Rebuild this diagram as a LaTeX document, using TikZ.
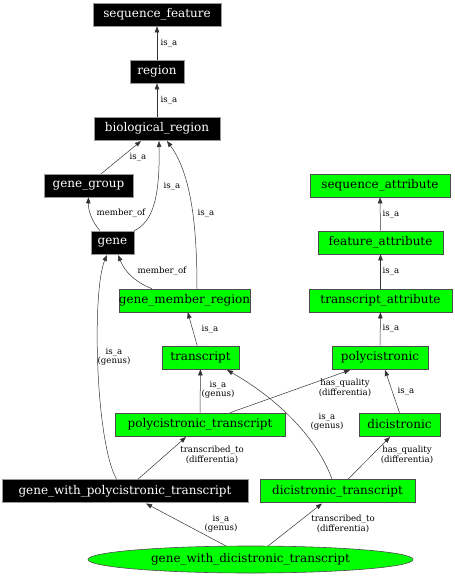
\documentclass[tikz,border=0pt]{standalone}
\usepackage{fontspec}
\setmainfont{DejaVu Serif}
\usetikzlibrary{arrows.meta,shapes.geometric}
\definecolor{lime}{RGB}{0,255,0}
\tikzset{
  base/.style={draw=black!70, line width=0.6pt, inner sep=0pt, minimum height=23pt, font=\fontsize{12}{14}\selectfont},
  blk/.style={base, fill=black, text=white, draw=black!40},
  grn/.style={base, fill=lime, text=black},
  ell/.style={base, ellipse, fill=lime, text=black, minimum height=27pt},
  edge/.style={draw=black!80, line width=0.5pt, -{Triangle[length=6pt,width=4.5pt]}},
  lab/.style={font=\fontsize{8.6}{8.5}\selectfont, align=center, inner sep=0pt}
}
\begin{document}
\begin{tikzpicture}[x=1pt,y=-1pt]
\useasboundingbox (0,0) rectangle (455,576);
% nodes
\node[blk, minimum width=128pt] (sf) at (157,14.5) {sequence\_feature};
\node[blk, minimum width=54pt] (reg) at (157,71.5) {region};
\node[blk, minimum width=126pt] (br) at (157,128.5) {biological\_region};
\node[blk, minimum width=89pt] (gg) at (88.5,185.5) {gene\_group};
\node[blk, minimum width=43pt] (gene) at (112.5,242.5) {gene};
\node[grn, minimum width=131pt] (gmr) at (184.5,300.5) {gene\_member\_region};
\node[grn, minimum width=77pt] (tr) at (200.5,357.5) {transcript};
\node[grn, minimum width=170pt] (pt) at (200,424.5) {polycistronic\_transcript};
\node[blk, minimum width=246pt] (gwpt) at (125,491) {gene\_with\_polycistronic\_transcript};
\node[grn, minimum width=155pt] (dt) at (337.5,491) {dicistronic\_transcript};
\node[ell, minimum width=325pt] (gwdt) at (250.5,559.5) {gene\_with\_dicistronic\_transcript};
\node[grn, minimum width=140pt] (sa) at (380,185.5) {sequence\_attribute};
\node[grn, minimum width=125pt] (fa) at (380.5,242.5) {feature\_attribute};
\node[grn, minimum width=143pt] (ta) at (380.5,300.5) {transcript\_attribute};
\node[grn, minimum width=96pt] (pc) at (380,357.5) {polycistronic};
\node[grn, minimum width=81pt] (dc) at (399.5,424.5) {dicistronic};
% edges
\draw[edge] (reg) -- (sf);
\node[lab] at (169,43) {is\_a};
\draw[edge] (br) -- (reg);
\node[lab] at (169,100) {is\_a};
\draw[edge] (gg.north east) ++(-32,0) -- (141,141);
\node[lab] at (138,157) {is\_a};
\draw[edge] (gene.north east) .. controls (152,222) and (160,200) .. (159,141);
\node[lab] at (172,186) {is\_a};
\draw[edge] ([xshift=12.5pt]gmr.north) .. controls (197,230) and (192,175) .. (167,141);
\node[lab] at (206,213) {is\_a};
\draw[edge] ([xshift=-12.5pt]gene.north) .. controls (92,222) and (88,210) .. (gg.south);
\node[lab] at (121,213) {member\_of};
\draw[edge] ([xshift=-32.5pt]gmr.north) .. controls (135,282) and (125,272) .. (118,255);
\node[lab] at (162,271) {member\_of};
\draw[edge] (tr) -- (gmr);
\node[lab] at (210,329) {is\_a};
\draw[edge] (pt) -- (tr);
\node[lab] at (218,390) {is\_a\\(genus)};
\draw[edge] ([xshift=-5.5pt]dt.north) .. controls (318,440) and (280,400) .. (227,370);
\node[lab] at (327,422) {is\_a\\(genus)};
\draw[edge] ([xshift=30pt]pt.north) -- (350,370);
\node[lab] at (345,388) {has\_quality\\(differentia)};
\draw[edge] (dc.north) -- (385,370);
\node[lab] at (406,391) {is\_a};
\draw[edge] ([xshift=10.5pt]dt.north) -- (390,437);
\node[lab] at (407,455) {has\_quality\\(differentia)};
\draw[edge] ([xshift=13pt]gwpt.north) -- (186,437);
\node[lab] at (212,455) {transcribed\_to\\(differentia)};
\draw[edge] ([xshift=-8.5pt]gwpt.north) .. controls (95,440) and (92,290) .. (107,255);
\node[lab] at (114,357) {is\_a\\(genus)};
\draw[edge] (226,546) -- (146,503.5);
\node[lab] at (221,524) {is\_a\\(genus)};
\draw[edge] (268,546) -- (322,503.5);
\node[lab] at (343,524) {transcribed\_to\\(differentia)};
\draw[edge] (fa) -- (sa);
\node[lab] at (391,214) {is\_a};
\draw[edge] (ta) -- (fa);
\node[lab] at (391,271) {is\_a};
\draw[edge] (pc) -- (ta);
\node[lab] at (391,328) {is\_a};
\end{tikzpicture}
\end{document}
